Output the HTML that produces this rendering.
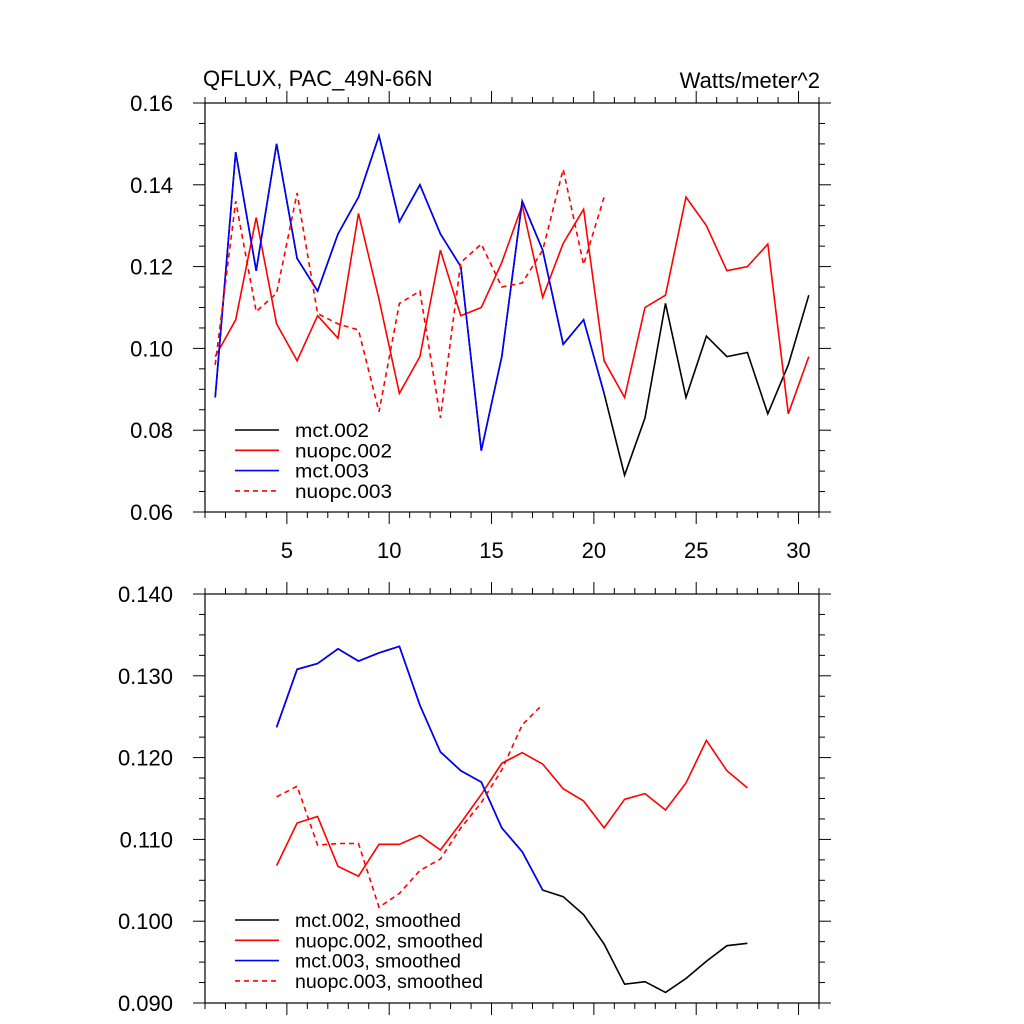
<!DOCTYPE html>
<html><head><meta charset="utf-8"><style>body{margin:0;background:#fff}svg{display:block;font-family:"Liberation Sans",sans-serif}</style></head>
<body>
<svg id="chart" width="1024" height="1024" xmlns="http://www.w3.org/2000/svg">
<text x="203" y="86" font-size="22">QFLUX, PAC_49N-66N</text>
<text x="820" y="88" font-size="22" text-anchor="end">Watts/meter^2</text>
</svg>
<script>
const topMct002 = [0.088,0.148,0.119,0.150,0.122,0.114,0.128,0.137,0.152,0.131,0.140,0.128,0.120,0.075,0.098,0.136,0.124,0.101,0.107,0.089,0.069,0.083,0.111,0.088,0.103,0.098,0.099,0.084,0.096,0.113];
const topNuopc002 = [0.098,0.107,0.132,0.106,0.097,0.108,0.1025,0.133,0.112,0.089,0.098,0.124,0.108,0.110,0.121,0.135,0.1125,0.1257,0.134,0.097,0.088,0.110,0.113,0.137,0.130,0.119,0.120,0.1255,0.084,0.098];
const topMct003 = [0.088,0.148,0.119,0.150,0.122,0.114,0.128,0.137,0.152,0.131,0.140,0.128,0.120,0.075,0.098,0.136,0.124,0.101,0.107,0.089];
const topNuopc003 = [0.096,0.136,0.109,0.1135,0.138,0.1085,0.106,0.1045,0.0845,0.111,0.114,0.083,0.121,0.1255,0.115,0.116,0.124,0.1438,0.1205,0.137];
const botMct002 = [0.1237,0.1308,0.1315,0.1333,0.1318,0.1328,0.1336,0.1264,0.1207,0.1184,0.1170,0.1114,0.1085,0.1038,0.1030,0.1008,0.0972,0.0923,0.0926,0.0913,0.0930,0.0951,0.0970,0.0973];
const botNuopc002 = [0.1068,0.1120,0.1128,0.1067,0.1055,0.1094,0.1094,0.1105,0.1087,0.1120,0.1155,0.1193,0.1206,0.1192,0.1162,0.1147,0.1114,0.1149,0.1156,0.1136,0.1169,0.1221,0.1184,0.1163];
const botMct003 = [0.1237,0.1308,0.1315,0.1333,0.1318,0.1328,0.1336,0.1264,0.1207,0.1184,0.1170,0.1114,0.1085,0.1038];
const botNuopc003 = [0.1152,0.1165,0.1093,0.1095,0.1095,0.1017,0.1034,0.1062,0.1076,0.1114,0.1145,0.1185,0.1240,0.1265];
const xTickLabels = [5,10,15,20,25,30];
const topYTicks = ["0.06","0.08","0.10","0.12","0.14","0.16"];
const botYTicks = ["0.090","0.100","0.110","0.120","0.130","0.140"];
const topLegend = ["mct.002","nuopc.002","mct.003","nuopc.003"];
const botLegend = ["mct.002, smoothed","nuopc.002, smoothed","mct.003, smoothed","nuopc.003, smoothed"];

const svg = document.getElementById('chart');
const NS = 'http://www.w3.org/2000/svg';
function mk(tag, attrs){const e=document.createElementNS(NS,tag);for(const k in attrs)e.setAttribute(k,attrs[k]);svg.appendChild(e);return e;}
const L=205,R=819,XMIN=1,XMAX=31;
const xs = v => L + (v-XMIN)/(XMAX-XMIN)*(R-L);

function panel(top,bot,ymin,ymax,yLabels,minorStep,showXLabels,series,x0,legend,legY,legW,pname){
  const ys = v => bot - (v-ymin)/(ymax-ymin)*(bot-top);
  const fr = mk('rect',{x:L,y:top,width:R-L,height:bot-top,fill:'none',stroke:'#000','stroke-width':1.2});
  
  
  for(let x=XMIN;x<=XMAX+1e-9;x++){
    const major = x%5===0, len = major?12:6;
    mk('line',{x1:xs(x),x2:xs(x),y1:bot,y2:bot+len,stroke:'#000'});
    mk('line',{x1:xs(x),x2:xs(x),y1:top,y2:top-len,stroke:'#000'});
  }
  if(showXLabels){
    xTickLabels.forEach(t=>{
      const tx=mk('text',{x:xs(t),y:bot+46,'font-size':22,'text-anchor':'middle'});
      tx.textContent=t;
      
      
    });
  }
  const n = Math.round((ymax-ymin)/minorStep);
  for(let i=0;i<=n;i++){
    const v=ymin+i*minorStep, major=i%4===0, len=major?12:6;
    mk('line',{x1:L,x2:L-len,y1:ys(v),y2:ys(v),stroke:'#000'});
    mk('line',{x1:R,x2:R+len,y1:ys(v),y2:ys(v),stroke:'#000'});
  }
  yLabels.forEach((lab,i)=>{
    const v=ymin+i*(ymax-ymin)/(yLabels.length-1);
    const tx=mk('text',{x:L-32,y:ys(v)+8,'font-size':22,'text-anchor':'end'});
    tx.textContent=lab;
    
    
  });
  series.forEach(s=>{
    const pts=s.data.map((v,i)=>xs(x0+i).toFixed(1)+','+ys(v).toFixed(1)).join(' ');
    const p=mk('polyline',{points:pts,fill:'none',stroke:s.color,'stroke-width':1.6,'stroke-dasharray':s.dash?'5,4':'none'});
    
    
  });
  const lc=['#000','#f00','#00f','#f00'];
  legend.forEach((t,i)=>{
    const y=legY+i*20.3;
    const ln=mk('line',{x1:235,x2:279,y1:y,y2:y,stroke:lc[i],'stroke-width':1.6,'stroke-dasharray':i===3?'5,4':'none'});
    
    
    const tx=mk('text',{x:295,y:y+7,'font-size':19,textLength:legW[i],lengthAdjust:'spacingAndGlyphs'});
    tx.textContent=t;
    
    
  });
}
panel(103,512,0.06,0.16,topYTicks,0.005,true,[
  {data:topMct002,color:'#000',name:'top-mct002-line'},
  {data:topNuopc002,color:'#f00',name:'top-nuopc002-line'},
  {data:topMct003,color:'#00f',name:'top-mct003-line'},
  {data:topNuopc003,color:'#f00',dash:true,name:'top-nuopc003-line'}
],1.5,topLegend,430,[74,97,74,97],'top-panel');
panel(594,1003,0.09,0.14,botYTicks,0.0025,false,[
  {data:botMct002,color:'#000',name:'bottom-mct002-line'},
  {data:botNuopc002,color:'#f00',name:'bottom-nuopc002-line'},
  {data:botMct003,color:'#00f',name:'bottom-mct003-line'},
  {data:botNuopc003,color:'#f00',dash:true,name:'bottom-nuopc003-line'}
],4.5,botLegend,920,[166,188,166,188],'bottom-panel');
</script>
</body></html>
